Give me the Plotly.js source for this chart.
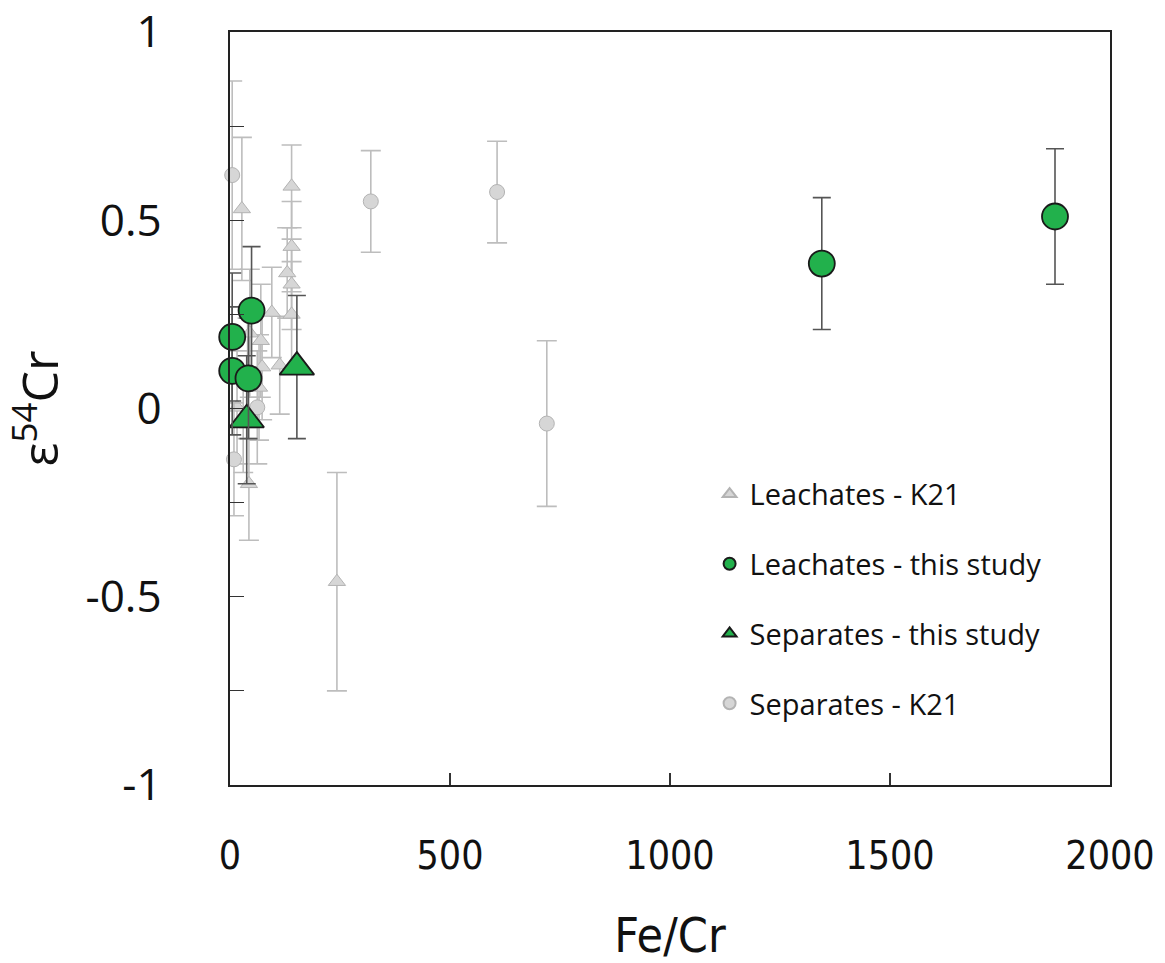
<!DOCTYPE html>
<html>
<head>
<meta charset="utf-8">
<script src="https://cdn.plot.ly/plotly-3.0.1.min.js"></script>
<style>html,body{margin:0;padding:0;background:#fff;}#chart{width:1165px;height:963px;}</style>
</head>
<body>
<div id="chart"></div>
<script>
// Leachates - K21 (grey triangles)
const leachK21_x   = [27, 140, 140, 130, 140, 140, 95, 45, 70, 73, 113, 66, 16, 43, 243, 40, 30];
const leachK21_y   = [0.53, 0.59, 0.43, 0.36, 0.33, 0.25, 0.255, 0.20, 0.18, 0.11, 0.115, 0.056, 0.003, -0.20, -0.46, 0.08, -0.03];
const leachK21_err = [0.19, 0.11, 0.12, 0.12, 0.12, 0.14, 0.12, 0.17, 0.15, 0.14, 0.13, 0.14, 0.15, 0.15, 0.29, 0.16, 0.14];

// Separates - K21 (grey circles)
const sepK21_x   = [5, 320, 607, 720, 62, 9];
const sepK21_y   = [0.62, 0.55, 0.575, -0.04, 0.003, -0.135];
const sepK21_err = [0.25, 0.135, 0.135, 0.22, 0.15, 0.15];

// Leachates - this study (green circles)
const leachThis_x   = [1875, 1345, 49, 5, 5, 42];
const leachThis_y   = [0.51, 0.385, 0.26, 0.19, 0.10, 0.08];
const leachThis_err = [0.18, 0.175, 0.17, 0.17, 0.17, 0.16];

// Separates - this study (green triangles)
const sepThis_x   = [152, 38];
const sepThis_y   = [0.11, -0.03];
const sepThis_err = [0.19, 0.17];

const yTickVals = [-1, -0.75, -0.5, -0.25, 0, 0.25, 0.5, 0.75, 1];
const yTickText = ['-1', '', '-0.5', '', '0', '', '0.5', '', '1'];
const xTickVals = [0, 500, 1000, 1500, 2000];
const xTickText = ['0', '500', '1000', '1500', '2000'];

const grey = '#d6d6d6', greyLine = '#b3b3b3', greyErr = '#bdbdbd';
const green = '#22b14c', dark = '#1a1a1a', darkErr = '#555555';
const condensed = 'DejaVu Sans Condensed, Liberation Sans Narrow, Open Sans, sans-serif';

const traces = [
  {
    name: 'Leachates - K21', x: leachK21_x, y: leachK21_y, type: 'scatter', mode: 'markers',
    legendgroup: 'a', legendrank: 1, cliponaxis: false,
    marker: {symbol: 'triangle-up', size: 15, color: grey, line: {color: greyLine, width: 1}},
    error_y: {type: 'data', array: leachK21_err, visible: true, color: greyErr, thickness: 1.6, width: 10}
  },
  {
    name: 'Separates - K21', x: sepK21_x, y: sepK21_y, type: 'scatter', mode: 'markers',
    legendgroup: 'd', legendrank: 4, cliponaxis: false,
    marker: {symbol: 'circle', size: 15, color: grey, line: {color: greyLine, width: 1}},
    error_y: {type: 'data', array: sepK21_err, visible: true, color: greyErr, thickness: 1.6, width: 10}
  },
  {
    name: 'Separates - this study', x: sepThis_x, y: sepThis_y, type: 'scatter', mode: 'markers',
    legendgroup: 'c', legendrank: 3, cliponaxis: false,
    marker: {symbol: 'triangle-up', size: 30, color: green, line: {color: dark, width: 1.8}},
    error_y: {type: 'data', array: sepThis_err, visible: true, color: darkErr, thickness: 1.6, width: 9}
  },
  {
    name: 'Leachates - this study', x: leachThis_x, y: leachThis_y, type: 'scatter', mode: 'markers',
    legendgroup: 'b', legendrank: 2, cliponaxis: false,
    marker: {symbol: 'circle', size: 26, color: green, line: {color: dark, width: 1.8}},
    error_y: {type: 'data', array: leachThis_err, visible: true, color: darkErr, thickness: 1.6, width: 9}
  }
];

const layout = {
  width: 1165, height: 963,
  margin: {l: 230, r: 55, t: 32, b: 178},
  paper_bgcolor: '#ffffff', plot_bgcolor: '#ffffff',
  font: {family: 'Open Sans, sans-serif', color: '#111111'},
  showlegend: true,
  legend: {
    x: 0.545, y: 0.42, xanchor: 'left', yanchor: 'top',
    font: {size: 29, color: '#111111'},
    itemsizing: 'constant', traceorder: 'grouped', tracegroupgap: 29,
    bgcolor: 'rgba(0,0,0,0)', itemwidth: 30
  },
  xaxis: {
    range: [0, 2000], tickvals: xTickVals, ticktext: xTickText,
    ticks: 'inside', ticklen: 12, tickcolor: '#333', tickwidth: 1.2,
    showline: true, linecolor: '#222', linewidth: 1.6, mirror: true,
    showgrid: false, zeroline: false,
    tickfont: {size: 39, family: condensed},
    ticklabelstandoff: 36,
    title: {text: 'Fe/Cr', font: {size: 48, family: condensed}, standoff: 42}
  },
  yaxis: {
    range: [-1, 1], tickvals: yTickVals, ticktext: yTickText,
    ticks: 'inside', ticklen: 14, tickcolor: '#333', tickwidth: 1.2,
    showline: true, linecolor: '#222', linewidth: 1.6, mirror: true,
    showgrid: false, zeroline: false,
    tickfont: {size: 44, family: 'Open Sans, sans-serif'},
    ticklabelstandoff: 58,
    title: {text: 'ε<sup>54</sup>Cr', font: {size: 50, family: 'Open Sans, sans-serif'}, standoff: 22}
  }
};

Plotly.newPlot('chart', traces, layout, {displayModeBar: false, staticPlot: true});
</script>
</body>
</html>
